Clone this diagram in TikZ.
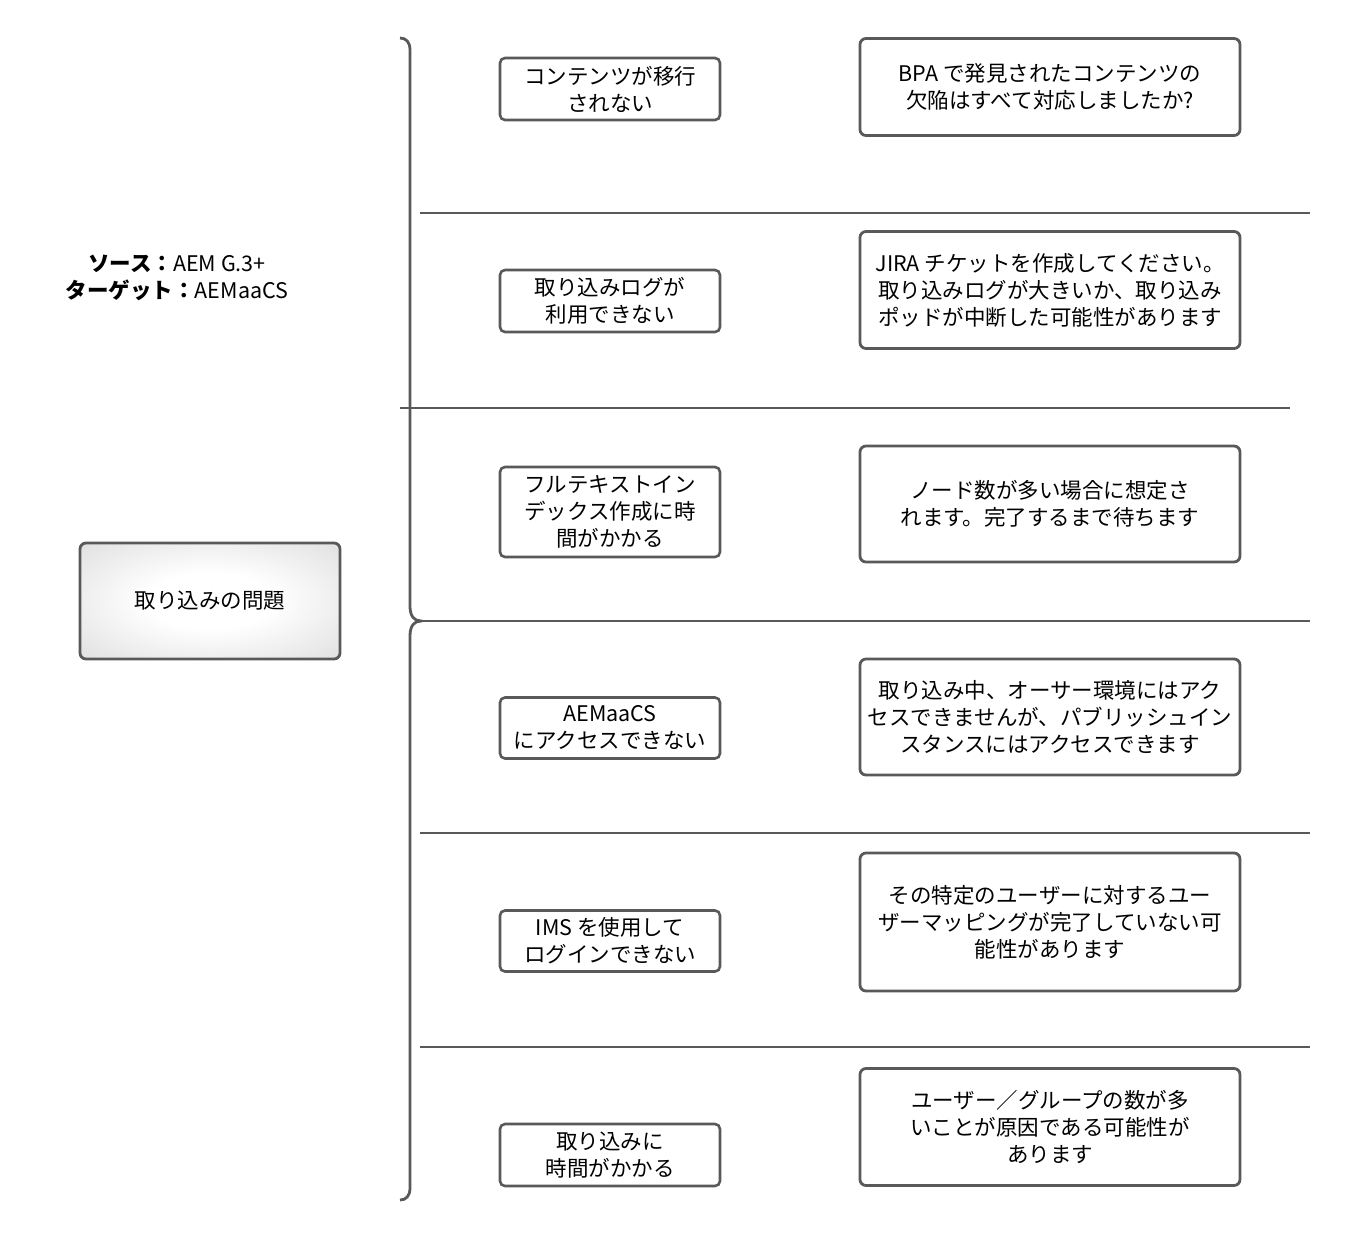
\documentclass[tikz,border=0pt]{standalone}
\usepackage{fontspec}
\setmainfont{Noto Sans CJK JP}
\usetikzlibrary{positioning}
\pgfdeclareradialshading{issueshade}{\pgfpoint{0bp}{0bp}}{color(0bp)=(white); color(12bp)=(white); color(55bp)=(black!22); color(75bp)=(black!28)}

\begin{document}
\begin{tikzpicture}
[x=1pt, y=-1pt, black!65, text=black, line width=2.8pt,
every node/.style = {font=\fontsize{21.5}{27}\selectfont, align=center},
problem/.style = {rectangle, rounded corners=5pt, draw=black!65, line width=2.6pt,
                  minimum width=220pt, inner sep=3pt},
remedy/.style = {rectangle, rounded corners=6pt, draw=black!65, line width=2.8pt,
                 minimum width=380pt, inner sep=3pt},
topic/.style = {rectangle, rounded corners=6pt, draw=black!65, line width=2.8pt,
                shading=issueshade, minimum width=260pt, minimum height=116pt},
rule/.style = {draw=black!65, line width=2.8pt}]
\useasboundingbox (0,0) rectangle (1349,1240);

% left side
\node (env) at (177,278) {\bfseries ソース：\mdseries AEM G.3+\\\bfseries ターゲット：\mdseries AEMaaCS};
\node[topic] (issue) at (210,601) {取り込みの問題};

% brace
\coordinate (top) at (400,38);
\coordinate (tip) at (421,621);
\coordinate (bot) at (400,1200);
\draw[rule] (top) .. controls (406,38) and (410,42) .. (410,50) -- (410,606)
  .. controls (410,616) and (414,621) .. (tip)
  .. controls (414,621) and (410,626) .. (410,636) -- (410,1188)
  .. controls (410,1196) and (406,1200) .. (bot);

% separators
\draw[rule] (420,213) -- (1310,213);
\draw[rule] (400,408) -- (1290,408);
\draw[rule] (tip) -- (1310,621);
\draw[rule] (420,833) -- (1310,833);
\draw[rule] (420,1047) -- (1310,1047);

% problems
\node[problem, minimum height=62pt] (p1) at (610,89) {コンテンツが移行\\されない};
\node[problem, minimum height=62pt] (p2) at (610,301) {取り込みログが\\利用できない};
\node[problem, minimum height=90pt] (p3) at (610,512) {フルテキストイン\\デックス作成に時\\間がかかる};
\node[problem, minimum height=61pt] (p4) at (610,728) {AEMaaCS\\にアクセスできない};
\node[problem, minimum height=61pt] (p5) at (610,941) {IMS を使用して\\ログインできない};
\node[problem, minimum height=62pt] (p6) at (610,1155) {取り込みに\\時間がかかる};

% remedies
\node[remedy, minimum height=97pt] (r1) at (1050,87) {BPA で発見されたコンテンツの\\欠陥はすべて対応しましたか?};
\node[remedy, minimum height=117pt] (r2) at (1050,290) {JIRA チケットを作成してください。\\取り込みログが大きいか、取り込み\\ポッドが中断した可能性があります};
\node[remedy, minimum height=116pt] (r3) at (1050,504) {ノード数が多い場合に想定さ\\れます。完了するまで待ちます};
\node[remedy, minimum height=116pt] (r4) at (1050,717) {取り込み中、オーサー環境にはアク\\セスできませんが、パブリッシュイン\\スタンスにはアクセスできます};
\node[remedy, minimum height=138pt] (r5) at (1050,922) {その特定のユーザーに対するユー\\ザーマッピングが完了していない可\\能性があります};
\node[remedy, minimum height=117pt] (r6) at (1050,1127) {ユーザー／グループの数が多\\いことが原因である可能性が\\あります};
\end{tikzpicture}
\end{document}
